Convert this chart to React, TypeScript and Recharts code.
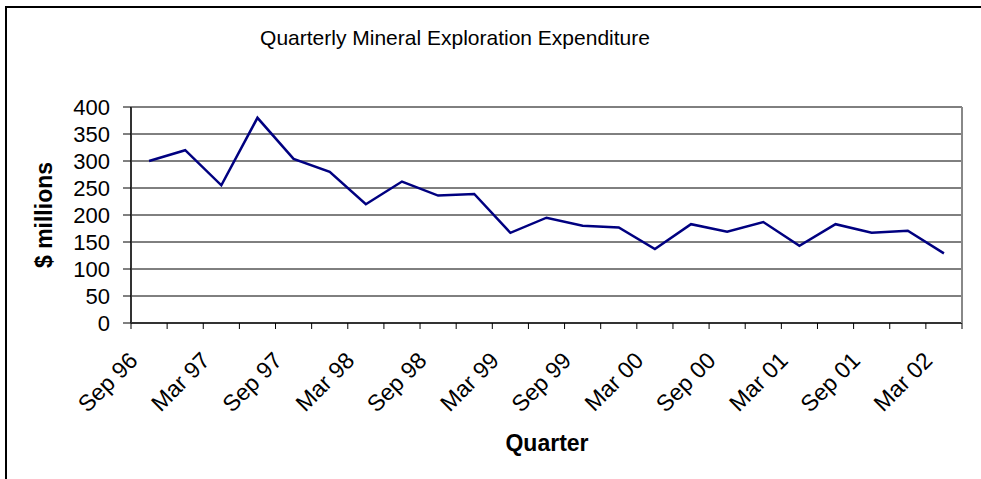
import React from "react";
import { CartesianGrid, Line, LineChart, XAxis, YAxis } from "recharts";

const quarters = [
  "Sep 96", "Dec 96", "Mar 97", "Jun 97", "Sep 97", "Dec 97", "Mar 98", "Jun 98",
  "Sep 98", "Dec 98", "Mar 99", "Jun 99", "Sep 99", "Dec 99", "Mar 00", "Jun 00",
  "Sep 00", "Dec 00", "Mar 01", "Jun 01", "Sep 01", "Dec 01", "Mar 02",
];
const expenditure = [
  300, 320, 255, 380, 304, 280, 220, 262, 236, 239, 167, 195,
  180, 177, 137, 183, 169, 187, 143, 183, 167, 171, 129,
];
const yTicks = [0, 50, 100, 150, 200, 250, 300, 350, 400];

const data = quarters.map((q, i) => ({ quarter: q, value: expenditure[i] }));

const W = 981;
const H = 479;
const PLOT_LEFT = 131;
const PLOT_RIGHT = 962;
const HALF_STEP = (PLOT_RIGHT - PLOT_LEFT) / quarters.length / 2;

const FONT = "'Liberation Sans', Arial, sans-serif";

function QuarterTick(props: any) {
  const { x, y, payload, index } = props;
  const last = index === quarters.length - 1;
  return (
    <g>
      <line x1={x - HALF_STEP} y1={y} x2={x - HALF_STEP} y2={y + 6} stroke="#000" strokeWidth={1} />
      {last && (
        <line x1={x + HALF_STEP} y1={y} x2={x + HALF_STEP} y2={y + 6} stroke="#000" strokeWidth={1} />
      )}
      {index % 2 === 0 && (
        <text
          x={x - 10}
          y={y + 39}
          transform={`rotate(-45, ${x - 10}, ${y + 39})`}
          textAnchor="end"
          fontSize={23}
          fontFamily={FONT}
          fill="#000"
        >
          {payload.value}
        </text>
      )}
    </g>
  );
}

export default function App() {
  return (
    <div style={{ position: "absolute", left: 0, top: 0, width: W, height: H, background: "#fff", overflow: "hidden" }}>
      <div
        style={{
          position: "absolute",
          left: 5,
          top: 6,
          width: W,
          height: H,
          borderTop: "2px solid #000",
          borderLeft: "2px solid #000",
        }}
      />
      <LineChart
        width={W}
        height={H}
        data={data}
        margin={{ top: 107, right: 18, bottom: 0, left: 0 }}
        style={{ position: "absolute", left: 0, top: 0 }}
      >
        <text x={455} y={45} textAnchor="middle" fontSize={21} fontFamily={FONT} fill="#000">
          Quarterly Mineral Exploration Expenditure
        </text>
        <text
          x={52}
          y={215}
          transform="rotate(-90, 52, 215)"
          textAnchor="middle"
          fontSize={23}
          fontWeight="bold"
          fontFamily={FONT}
          fill="#000"
        >
          $ millions
        </text>
        <text x={547} y={451} textAnchor="middle" fontSize={23} fontWeight="bold" fontFamily={FONT} fill="#000">
          Quarter
        </text>
        <CartesianGrid horizontal vertical={false} stroke="#000" strokeWidth={1} />
        <XAxis
          dataKey="quarter"
          interval={0}
          padding={{ left: HALF_STEP, right: HALF_STEP }}
          height={156}
          tickSize={0}
          tickMargin={0}
          tickLine={false}
          axisLine={{ stroke: "#333", strokeWidth: 2 }}
          tick={<QuarterTick />}
        />
        <YAxis
          width={131}
          domain={[0, 400]}
          ticks={yTicks}
          interval={0}
          tickSize={8}
          tickMargin={13}
          tickLine={{ stroke: "#000" }}
          axisLine={{ stroke: "#333", strokeWidth: 2 }}
          tick={{ fontSize: 22, fontFamily: FONT, fill: "#000" }}
        />
        <YAxis
          yAxisId="frame"
          orientation="right"
          width={1}
          domain={[0, 400]}
          tick={false}
          tickLine={false}
          axisLine={{ stroke: "#888", strokeWidth: 2 }}
        />
        <Line
          type="linear"
          dataKey="value"
          stroke="#000080"
          strokeWidth={2.5}
          dot={false}
          isAnimationActive={false}
        />
      </LineChart>
    </div>
  );
}
